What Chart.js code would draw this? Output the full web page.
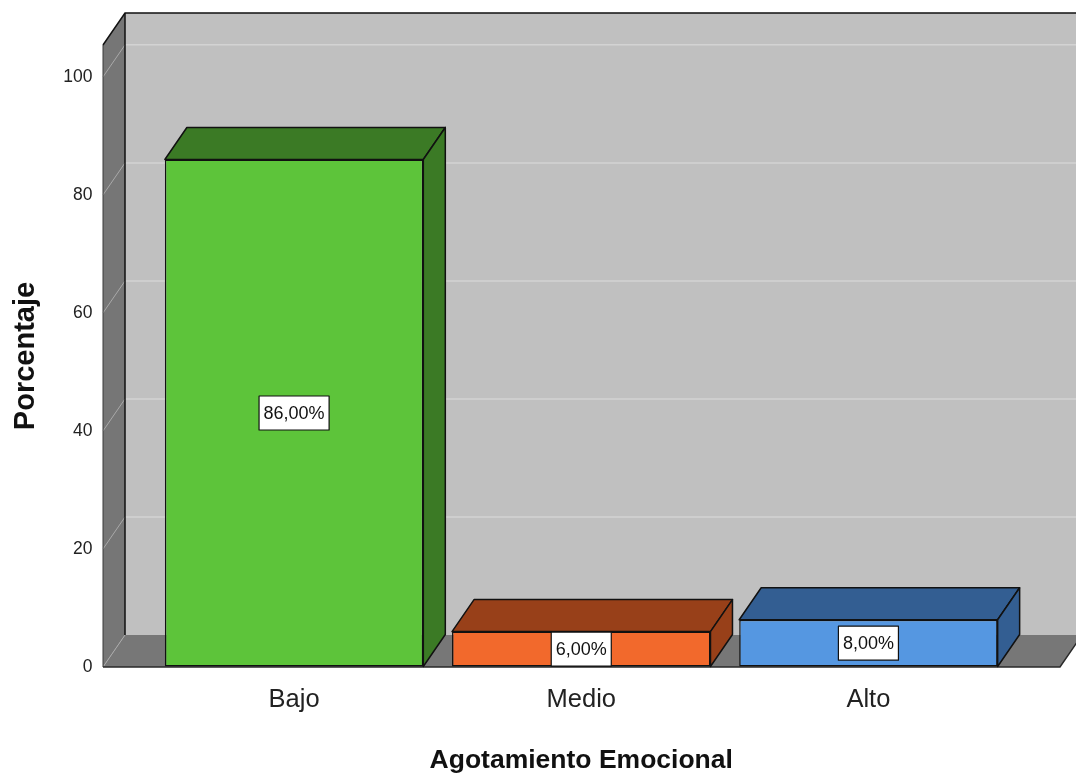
<!DOCTYPE html>
<html>
<head>
<meta charset="utf-8">
<script src="https://cdn.jsdelivr.net/npm/chart.js@4.4.1/dist/chart.umd.min.js"></script>
<style>
  html, body { margin: 0; padding: 0; background: #ffffff; overflow: hidden; }
  #wrap { position: relative; width: 1076px; height: 781px; }
</style>
</head>
<body>
<div id="wrap"><canvas id="chart"></canvas></div>
<script>
// Data
const categories = ['Bajo', 'Medio', 'Alto'];
const percentages = [86, 6, 8];
const yTickValues = [0, 20, 40, 60, 80, 100];
const yAxisMax = 105.4;

// Face colours: front face and the darker top/side faces
const frontColors = ['#5dc43a', '#f2692c', '#5597e1'];
const shadeColors = ['#3b7a25', '#984019', '#335e92'];

// 3D box geometry
const DEPTH_X = 22;
const DEPTH_Y = 32;
const WALL_PAD_LEFT = 47.5;
const WALL_PAD_RIGHT = 48;
const FONT = "'Liberation Sans', Arial, sans-serif";

function poly(ctx, pts, fill, stroke, lw) {
  ctx.beginPath();
  ctx.moveTo(pts[0][0], pts[0][1]);
  for (let i = 1; i < pts.length; i++) ctx.lineTo(pts[i][0], pts[i][1]);
  ctx.closePath();
  if (fill) { ctx.fillStyle = fill; ctx.fill(); }
  if (stroke) { ctx.strokeStyle = stroke; ctx.lineWidth = lw || 1; ctx.stroke(); }
}
function line(ctx, x1, y1, x2, y2, color, lw) {
  ctx.beginPath();
  ctx.moveTo(x1, y1);
  ctx.lineTo(x2, y2);
  ctx.strokeStyle = color;
  ctx.lineWidth = lw;
  ctx.stroke();
}

const box3d = {
  id: 'box3d',
  beforeDatasetsDraw(chart) {
    const ctx = chart.ctx;
    const ca = chart.chartArea;
    const ys = chart.scales.y;
    const W = chart.width;
    const L = ca.left - WALL_PAD_LEFT;
    const R = ca.right + WALL_PAD_RIGHT;
    const T = ca.top;
    const B = ca.bottom;
    ctx.save();
    // back wall
    ctx.fillStyle = '#c0c0c0';
    ctx.fillRect(L + DEPTH_X, T - DEPTH_Y, W - (L + DEPTH_X), (B - T));
    // left wall
    poly(ctx, [[L, T], [L + DEPTH_X, T - DEPTH_Y], [L + DEPTH_X, B - DEPTH_Y], [L, B]], '#767676');
    // floor
    poly(ctx, [[L, B], [R, B], [R + DEPTH_X, B - DEPTH_Y], [L + DEPTH_X, B - DEPTH_Y]], '#777777');
    // gridlines on back wall and left wall
    yTickValues.forEach(v => {
      const py = ys.getPixelForValue(v);
      if (v > 0) {
        line(ctx, L + DEPTH_X, py - DEPTH_Y, W, py - DEPTH_Y, '#d3d3d3', 1.5);
      }
      line(ctx, L, py, L + DEPTH_X, py - DEPTH_Y, '#a9a9a9', 1);
    });
    // edges
    line(ctx, L, T, L, B, '#3a3a3a', 1);
    ctx.beginPath();
    ctx.moveTo(L, T);
    ctx.lineTo(L + DEPTH_X, T - DEPTH_Y);
    ctx.lineTo(W, T - DEPTH_Y);
    ctx.strokeStyle = '#111111';
    ctx.lineWidth = 1.5;
    ctx.stroke();
    line(ctx, L + DEPTH_X, T - DEPTH_Y, L + DEPTH_X, B - DEPTH_Y, '#111111', 1.5);
    ctx.beginPath();
    ctx.moveTo(L, B);
    ctx.lineTo(R, B);
    ctx.lineTo(R + DEPTH_X, B - DEPTH_Y);
    ctx.strokeStyle = '#2a2a2a';
    ctx.lineWidth = 1.5;
    ctx.stroke();
    ctx.restore();
  },
  afterDatasetsDraw(chart) {
    const ctx = chart.ctx;
    const meta = chart.getDatasetMeta(0);
    ctx.save();
    ctx.lineJoin = 'round';
    meta.data.forEach((bar, i) => {
      const p = bar.getProps(['x', 'y', 'base', 'width'], true);
      const l = p.x - p.width / 2;
      const r = p.x + p.width / 2;
      // top face
      poly(ctx, [[l, p.y], [r, p.y], [r + DEPTH_X, p.y - DEPTH_Y], [l + DEPTH_X, p.y - DEPTH_Y]],
        shadeColors[i], '#111111', 1.5);
      // right side face
      poly(ctx, [[r, p.y], [r + DEPTH_X, p.y - DEPTH_Y], [r + DEPTH_X, p.base - DEPTH_Y], [r, p.base]],
        shadeColors[i], '#111111', 1.5);
    });
    // value labels
    ctx.font = '18px ' + FONT;
    ctx.textAlign = 'center';
    ctx.textBaseline = 'middle';
    meta.data.forEach((bar, i) => {
      const p = bar.getProps(['x', 'y', 'base'], true);
      const txt = percentages[i].toFixed(2).replace('.', ',') + '%';
      const tw = ctx.measureText(txt).width;
      const cy = (p.y + p.base) / 2;
      const bw = tw + 9;
      const bh = 34;
      ctx.fillStyle = '#ffffff';
      ctx.fillRect(p.x - bw / 2, cy - bh / 2, bw, bh);
      ctx.strokeStyle = '#111111';
      ctx.lineWidth = 1.2;
      ctx.strokeRect(p.x - bw / 2, cy - bh / 2, bw, bh);
      ctx.fillStyle = '#111111';
      ctx.fillText(txt, p.x, cy + 1);
    });
    ctx.restore();
  }
};

new Chart(document.getElementById('chart'), {
  type: 'bar',
  data: {
    labels: categories,
    datasets: [{
      data: percentages,
      backgroundColor: frontColors,
      borderColor: '#111111',
      borderWidth: 1.5,
      borderSkipped: false,
      categoryPercentage: 1.0,
      barPercentage: 0.9
    }]
  },
  options: {
    responsive: true,
    maintainAspectRatio: false,
    animation: false,
    events: [],
    layout: { padding: { top: 45, right: 64, left: 0, bottom: 0 } },
    plugins: { legend: { display: false }, tooltip: { enabled: false } },
    scales: {
      x: {
        grid: { display: false },
        border: { display: false },
        ticks: { color: '#222222', padding: 9.5, font: { family: FONT, size: 25.5 } },
        title: {
          display: true,
          text: 'Agotamiento Emocional',
          color: '#111111',
          font: { family: FONT, size: 26.5, weight: 'bold' },
          padding: { top: 20, bottom: 4 }
        },
        afterFit(scale) { scale.height = 114; }
      },
      y: {
        min: 0,
        max: yAxisMax,
        // tick marks are kept invisible; their length sets the label offset
        grid: { display: true, drawOnChartArea: false, drawTicks: true, tickLength: 55, tickColor: 'rgba(0,0,0,0)' },
        border: { display: false },
        afterBuildTicks(scale) { scale.ticks = yTickValues.map(v => ({ value: v })); },
        ticks: { color: '#222222', padding: 3, font: { family: FONT, size: 17.5 } },
        title: {
          display: true,
          text: 'Porcentaje',
          color: '#111111',
          font: { family: FONT, size: 29, weight: 'bold' },
          padding: { top: 9, bottom: 0 }
        },
        afterFit(scale) { scale.width = 150.5; }
      }
    }
  },
  plugins: [box3d]
});
</script>
</body>
</html>
